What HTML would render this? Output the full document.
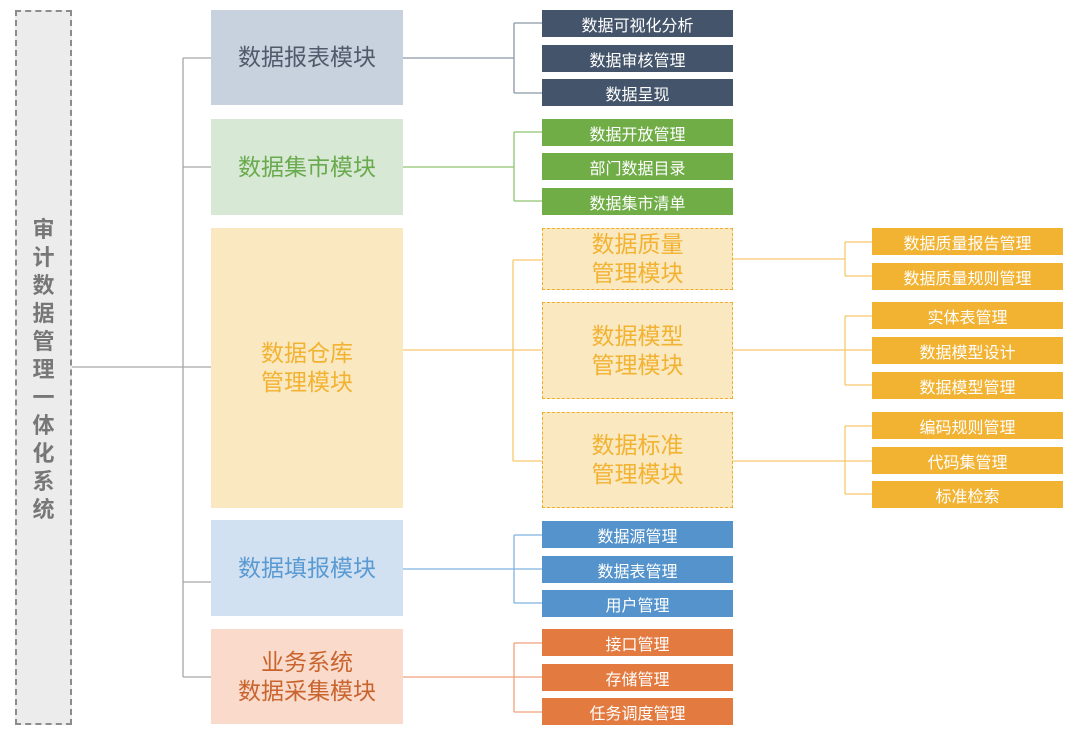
<!DOCTYPE html>
<html><head><meta charset="utf-8"><style>
body{margin:0;width:1080px;height:738px;background:#fff;position:relative;overflow:hidden;font-family:"Liberation Sans","Noto Sans CJK SC",sans-serif}
.a{position:absolute;display:flex;align-items:center;justify-content:center;text-align:center;box-sizing:border-box}
.m{left:211px;width:192px;font-size:23px;line-height:29px}
.l{width:191px;height:27px;color:#fff;font-size:16px}
.l1{left:542px}.l2{left:872px}
.d{background:#44546a}.g{background:#70ad47}.b{background:#5493cb}.o{background:#e37a40}.y{background:#f2b232}
.s{left:542px;width:191px;border:1.5px dashed #f2ad2e;background:#fae8c0;color:#f2b232;font-size:23px;line-height:29px}
</style></head><body>
<svg style="position:absolute;left:0;top:0" width="1080" height="738">
<g fill="none" stroke-width="1.3">
<path d="M71 367H183M183 58V677M183 58H211M183 167H211M183 367H211M183 582H211M183 677H211" stroke="#a6a6a6"/>
<path d="M403 58H514M514 23V93M514 23H542M514 93H542" stroke="#8a96a8"/>
<path d="M403 167H514M514 132V201M514 132H542M514 201H542" stroke="#8fc46f"/>
<path d="M403 350H542M513 260V461M513 260H542M513 461H542" stroke="#f7c86e"/>
<path d="M733 259H845M845 242V276M845 242H872M845 276H872" stroke="#f7c86e"/>
<path d="M733 350H872M845 316V385M845 316H872M845 385H872" stroke="#f7c86e"/>
<path d="M733 461H872M845 426V494M845 426H872M845 494H872" stroke="#f7c86e"/>
<path d="M403 569H542M514 535V603M514 535H542M514 603H542" stroke="#7fb3e0"/>
<path d="M403 677H542M514 643V712M514 643H542M514 712H542" stroke="#f0a07a"/>
</g></svg>
<div class="a" style="left:15px;top:10px;width:57px;height:715px;background:#ececec;border:2px dashed #8c8c8c;color:#777;font-weight:bold;font-size:22px;line-height:28px;padding-top:4px">审<br>计<br>数<br>据<br>管<br>理<br>一<br>体<br>化<br>系<br>统</div>
<div class="a m" style="top:10px;height:95px;background:#c8d1de;color:#505a6a">数据报表模块</div>
<div class="a m" style="top:119px;height:96px;background:#d7e8d4;color:#6aaa4e">数据集市模块</div>
<div class="a m" style="top:228px;height:280px;background:#fae8c0;color:#f2b232">数据仓库<br>管理模块</div>
<div class="a m" style="top:520px;height:96px;background:#d2e1f1;color:#5a9ad3">数据填报模块</div>
<div class="a m" style="top:629px;height:95px;background:#f9dacb;color:#c9642e">业务系统<br>数据采集模块</div>
<div class="a l l1 d" style="top:10px">数据可视化分析</div>
<div class="a l l1 d" style="top:45px">数据审核管理</div>
<div class="a l l1 d" style="top:79px">数据呈现</div>
<div class="a l l1 g" style="top:119px">数据开放管理</div>
<div class="a l l1 g" style="top:153px">部门数据目录</div>
<div class="a l l1 g" style="top:188px">数据集市清单</div>
<div class="a s" style="top:228px;height:62px">数据质量<br>管理模块</div>
<div class="a s" style="top:302px;height:97px">数据模型<br>管理模块</div>
<div class="a s" style="top:412px;height:96px">数据标准<br>管理模块</div>
<div class="a l l2 y" style="top:228px">数据质量报告管理</div>
<div class="a l l2 y" style="top:263px">数据质量规则管理</div>
<div class="a l l2 y" style="top:302px">实体表管理</div>
<div class="a l l2 y" style="top:337px">数据模型设计</div>
<div class="a l l2 y" style="top:372px">数据模型管理</div>
<div class="a l l2 y" style="top:412px">编码规则管理</div>
<div class="a l l2 y" style="top:447px">代码集管理</div>
<div class="a l l2 y" style="top:481px">标准检索</div>
<div class="a l l1 b" style="top:521px">数据源管理</div>
<div class="a l l1 b" style="top:556px">数据表管理</div>
<div class="a l l1 b" style="top:590px">用户管理</div>
<div class="a l l1 o" style="top:629px">接口管理</div>
<div class="a l l1 o" style="top:664px">存储管理</div>
<div class="a l l1 o" style="top:698px">任务调度管理</div>
</body></html>
